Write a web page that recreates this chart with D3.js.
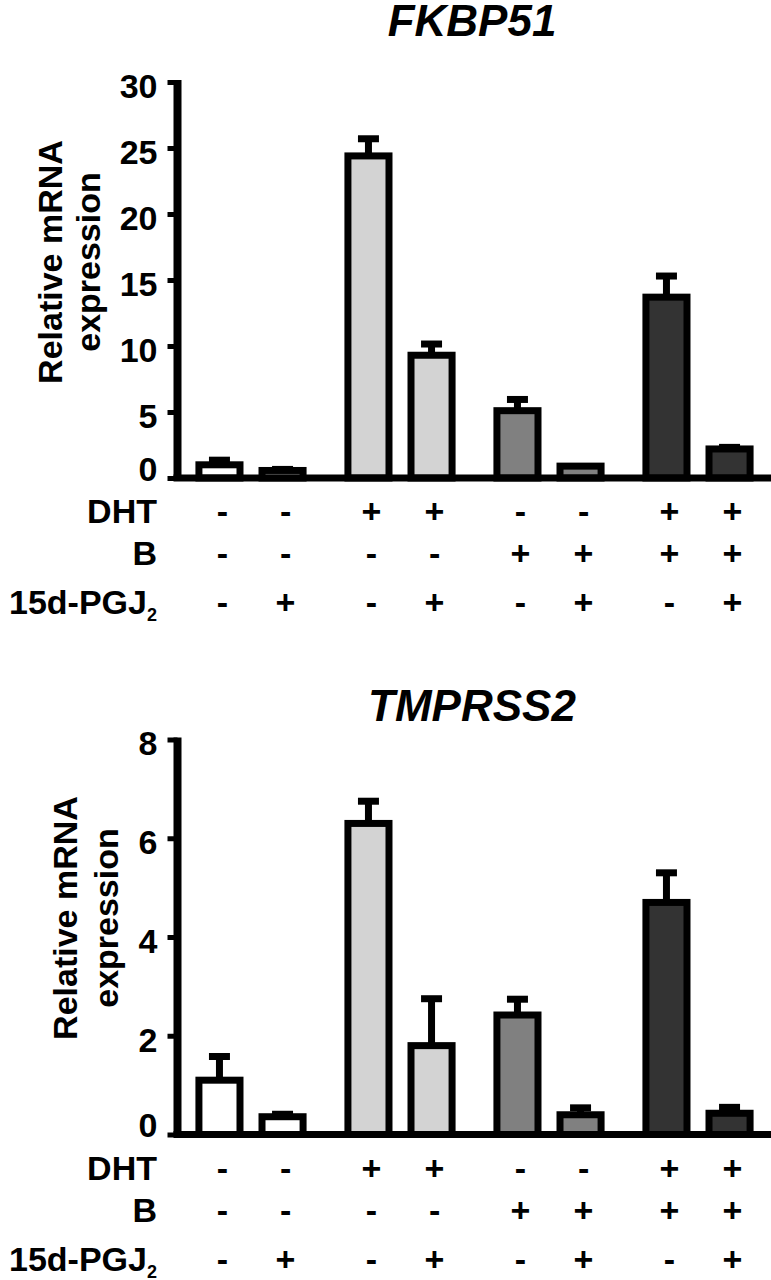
<!DOCTYPE html>
<html>
<head>
<meta charset="utf-8">
<script src="https://cdn.jsdelivr.net/npm/d3@7"></script>
<style>
  html, body { margin: 0; padding: 0; background: #fff; }
  svg { display: block; }
  text { font-family: "Liberation Sans", Arial, sans-serif; font-weight: bold; fill: #000; }
</style>
</head>
<body>
<svg id="chart" width="771" height="1280"></svg>
<script>
// ---- data ----
const groups = ["ctrl", "DHT", "B", "DHT+B"];
const groupFills = ["#ffffff", "#d3d3d3", "#808080", "#333333"];
const conditionRows = ["DHT", "B", "15d-PGJ"];
const dhtSigns  = ["-", "-", "+", "+", "-", "-", "+", "+"];
const bSigns    = ["-", "-", "-", "-", "+", "+", "+", "+"];
const pgjSigns  = ["-", "+", "-", "+", "-", "+", "-", "+"];

const fkbpTitle = "FKBP51";
const fkbpMeans = [1.0, 0.57, 24.4, 9.3, 5.1, 0.9, 13.7, 2.2];
const fkbpErrs  = [0.35, 0.08, 1.3, 0.85, 0.85, 0.0, 1.6, 0.12];
const fkbpTicks = [0, 5, 10, 15, 20, 25, 30];

const tmpTitle = "TMPRSS2";
const tmpMeans = [1.1, 0.36, 6.3, 1.8, 2.42, 0.4, 4.7, 0.43];
const tmpErrs  = [0.48, 0.05, 0.45, 0.95, 0.32, 0.14, 0.6, 0.12];
const tmpTicks = [0, 2, 4, 6, 8];

const svg = d3.select("#chart");

function panel(opts) {
  const { title, means, errs, ticks, yMax, y0, yTop, titleY, labelX1, labelX2, labelY } = opts;
  const g = svg.append("g");
  const axisX = 177.5;

  const y = d3.scaleLinear().domain([0, yMax]).range([y0, yTop]);
  const xGroup = d3.scaleBand().domain(groups).range([176.5, 772.5]).paddingInner(0).paddingOuter(0);
  const xInner = d3.scaleBand().domain([0, 1]).range([0, xGroup.bandwidth()])
    .paddingInner(0.238).paddingOuter(0.30);

  const items = means.map((m, i) => ({
    i, mean: m, err: errs[i], group: groups[Math.floor(i / 2)],
    fill: groupFills[Math.floor(i / 2)], sub: i % 2
  }));
  const cx = d => xGroup(d.group) + xInner(d.sub) + xInner.bandwidth() / 2;
  const innerW = xInner.bandwidth() - 7;

  // error bars (upper only)
  const eb = g.append("g");
  eb.selectAll("line.stem").data(items.filter(d => d.err > 0)).join("line")
    .attr("x1", cx).attr("x2", cx)
    .attr("y1", d => y(d.mean)).attr("y2", d => y(d.mean + d.err))
    .attr("stroke", "#000").attr("stroke-width", 7);
  eb.selectAll("line.cap").data(items.filter(d => d.err > 0)).join("line")
    .attr("x1", d => cx(d) - 10.5).attr("x2", d => cx(d) + 10.5)
    .attr("y1", d => y(d.mean + d.err)).attr("y2", d => y(d.mean + d.err))
    .attr("stroke", "#000").attr("stroke-width", 7);

  // bars
  g.append("g").selectAll("rect").data(items).join("rect")
    .attr("x", d => cx(d) - innerW / 2)
    .attr("width", innerW)
    .attr("y", d => y(d.mean))
    .attr("height", d => y(0) - y(d.mean))
    .attr("fill", d => d.fill)
    .attr("stroke", "#000").attr("stroke-width", 7);

  // x axis line
  g.append("line")
    .attr("x1", axisX - 4).attr("x2", 771)
    .attr("y1", y(0)).attr("y2", y(0))
    .attr("stroke", "#000").attr("stroke-width", 7);

  // y axis
  const yAxis = d3.axisLeft(y).tickValues(ticks).tickSize(10).tickSizeOuter(0).tickPadding(10)
    .tickFormat(d3.format("d"));
  const ya = g.append("g").attr("transform", `translate(${axisX},0)`).call(yAxis);
  ya.select(".domain").attr("stroke", "#000").attr("stroke-width", 8)
    .attr("d", `M0,${y(0)}V${y(yMax) - 2}`);
  ya.selectAll(".tick line").attr("stroke", "#000").attr("stroke-width", 5);
  ya.selectAll(".tick text")
    .style("font-family", '"Liberation Sans", Arial, sans-serif')
    .style("font-weight", "bold").style("font-size", "34px")
    .attr("dy", d => d === 0 ? "0.07em" : "0.45em").attr("fill", "#000");

  // y axis title
  const yt = g.append("g");
  yt.append("text").attr("transform", `translate(${labelX1},${labelY}) rotate(-90)`)
    .attr("text-anchor", "middle").style("font-size", "34px").text("Relative mRNA");
  yt.append("text").attr("transform", `translate(${labelX2},${labelY}) rotate(-90)`)
    .attr("text-anchor", "middle").style("font-size", "34px").text("expression");

  // chart title
  g.append("text").attr("x", 472).attr("y", titleY)
    .attr("text-anchor", "middle").style("font-size", "44px").style("font-style", "italic")
    .text(title);

  // condition rows
  const rowOffsets = [45, 87, 136];
  const rowSigns = [dhtSigns, bSigns, pgjSigns];
  conditionRows.forEach((name, r) => {
    const by = y(0) + rowOffsets[r];
    const t = g.append("text").attr("x", 157).attr("y", by).attr("text-anchor", "end")
      .style("font-size", "34px");
    if (name === "15d-PGJ") {
      t.append("tspan").text("15d-PGJ");
      t.append("tspan").attr("dy", 7).style("font-size", "18px").text("2");
    } else {
      t.text(name);
    }
    g.append("g").selectAll("text").data(items).join("text")
      .attr("x", d => cx(d) + 3).attr("y", by)
      .attr("text-anchor", "middle").style("font-size", "34px")
      .text(d => rowSigns[r][d.i]);
  });
}

panel({ title: fkbpTitle, means: fkbpMeans, errs: fkbpErrs, ticks: fkbpTicks, yMax: 30,
        y0: 478, yTop: 82, titleY: 36, labelX1: 62, labelX2: 100, labelY: 262 });
panel({ title: tmpTitle, means: tmpMeans, errs: tmpErrs, ticks: tmpTicks, yMax: 8,
        y0: 1134.5, yTop: 739.5, titleY: 721, labelX1: 77, labelX2: 118, labelY: 918 });
</script>
</body>
</html>
